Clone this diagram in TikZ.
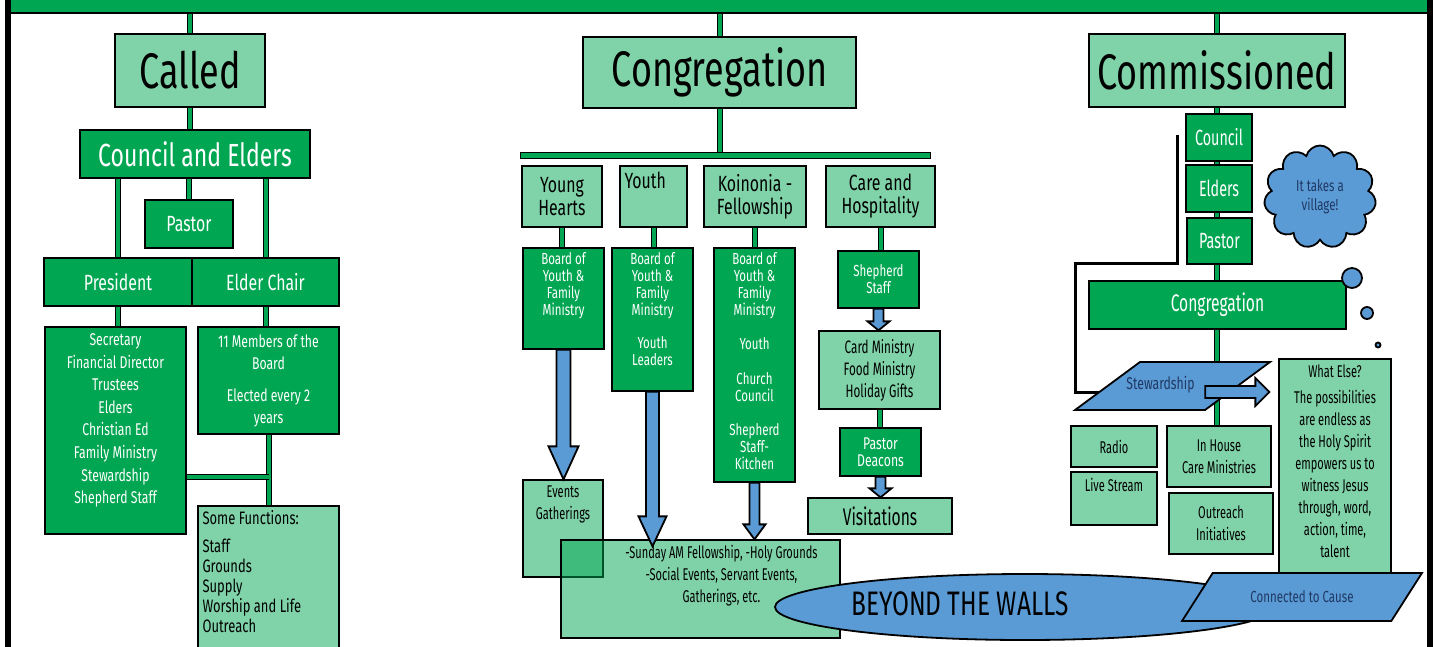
\documentclass[tikz,border=0pt]{standalone}
\usepackage{fontspec}
\newfontfamily\deco{Fira Sans}[FakeStretch=0.72]
\newfontfamily\hand{Fira Sans}[FakeStretch=0.65]
\usetikzlibrary{calc, positioning, backgrounds, shapes.geometric, shapes.symbols}
\definecolor{dkgreen}{RGB}{0,166,81}
\definecolor{lgreen}{RGB}{128,211,168}
\definecolor{ablue}{RGB}{91,155,213}
\definecolor{navy}{RGB}{31,56,100}

\begin{document}
\begin{tikzpicture}[x=1pt, y=-1pt,
  every label/.style = {align=center, inner sep=2pt},
  dbox/.style = {draw=black, line width=1.3pt, fill=dkgreen, text=white, align=center, inner sep=2pt},
  lbox/.style = {draw=black, line width=1.3pt, fill=lgreen, text=black, align=center, inner sep=2pt},
  tbox/.style = {lbox, fill=dkgreen, fill opacity=0.5, text opacity=1},
  wh/.style 2 args = {minimum width=#1, minimum height=#2},
  ft/.style 2 args = {font=\deco\fontsize{#1}{#2}\selectfont},
  hd/.style 2 args = {font=\hand\fontsize{#1}{#2}\selectfont},
  bar/.style = {draw=black, line width=1pt, double=dkgreen, double distance=4pt},
  barrow/.style = {draw=black, line width=1.8pt, fill=ablue, line join=miter},
  slant/.style = {trapezium, trapezium left angle=45, trapezium right angle=135,
    trapezium stretches=true, draw=black, line width=1.8pt, fill=ablue, text=navy},
  varrow/.style n args = {3}{to path={let \p1=(\tikztostart), \p2=(\tikztotarget) in
    (\x1-#1pt,\y1) -- (\x1-#1pt,\y2+#3pt) -- (\x1-#2pt,\y2+#3pt) -- (\x1,\y2)
    -- (\x1+#2pt,\y2+#3pt) -- (\x1+#1pt,\y2+#3pt) -- (\x1+#1pt,\y1) -- cycle}},
  harrow/.style n args = {3}{to path={let \p1=(\tikztostart), \p2=(\tikztotarget) in
    (\x1,\y1+#1pt) -- (\x2-#3pt,\y1+#1pt) -- (\x2-#3pt,\y1+#2pt) -- (\x2,\y1)
    -- (\x2-#3pt,\y1-#2pt) -- (\x2-#3pt,\y1-#1pt) -- (\x1,\y1-#1pt) -- cycle}}]
\useasboundingbox (0,0) rectangle (1434,646);

\node[dbox, wh={1420}{18}, inner sep=0pt] (band) at (718,4) {};
\draw[line width=6pt] (8,-5) -- (8,660);
\draw[line width=6pt] (1429.5,-5) -- (1429.5,660);

% called
\node[lbox, wh={150}{73}, ft={50}{50}] (called) at (190,70.5) {Called};
\node[dbox, wh={230}{48}, ft={32}{32}] (coun) at (195,154) {Council and Elders};
\node[dbox, wh={88}{48}, ft={22}{22}] (pastor) at (189,224) {Pastor};
\node[dbox, wh={148}{48}, ft={22}{22}] (pres) at (118,282) {President};
\node[dbox, wh={147}{48}, ft={22}{22}, right=-1.3pt of pres] (chair) {Elder Chair};
\node[dbox, wh={141}{207}, label={[anchor=north, yshift=-5, text=white, ft={17}{22.6}]north:{Secretary\\Financial Director\\Trustees\\Elders\\Christian Ed\\Family Ministry\\Stewardship\\Shepherd Staff}}] (offi) at (115.5,430.5) {};
\node[dbox, wh={141}{107}, ft={17}{22}] (members) at (268.5,380.5) {11 Members of the\\Board\\[10pt]Elected every 2\\years};
\node[lbox, wh={141}{150}, label={[anchor=north west, xshift=3, yshift=-3, ft={18}{20}, align=left]north west:{Some Functions:\\[8pt]Staff\\Grounds\\Supply\\Worship and Life\\Outreach}}] (funcs) at (268.5,581) {};
\coordinate (joinL) at (268.5,477);

% congregation
\node[lbox, wh={273}{71}, ft={50}{50}] (cong) at (719.5,72.5) {Congregation};
\node[dbox, wh={410}{6}, inner sep=0pt, line width=1pt] (hbar) at (725,155) {};
\node[lbox, wh={80}{61}, ft={22}{23}] (hearts) at (562,196.5) {Young\\Hearts};
\node[lbox, wh={67}{61}, label={[anchor=north west, xshift=3, yshift=-4, ft={22}{23}]north west:Youth}] (youth) at (653.5,196.5) {};
\node[lbox, wh={102}{61}, ft={22}{23}] (koin) at (755,196.5) {Koinonia -\\Fellowship};
\node[lbox, wh={109}{61}, ft={22}{23}] (care) at (880.5,196.5) {Care and\\Hospitality};
\node[dbox, wh={81}{101}, label={[anchor=north, yshift=-3, text=white, ft={16}{17}]north:{Board of\\Youth \&\\Family\\Ministry}}] (hboard) at (563.5,298.5) {};
\node[dbox, wh={81}{143}, label={[anchor=north, yshift=-3, text=white, ft={16}{17}]north:{Board of\\Youth \&\\Family\\Ministry\\[16pt]Youth\\Leaders}}] (yboard) at (652.5,319.5) {};
\node[dbox, wh={81}{234}, label={[anchor=north, yshift=-3, text=white, ft={16}{17}]north:{Board of\\Youth \&\\Family\\Ministry\\[17pt]Youth\\[18pt]Church\\Council\\[17pt]Shepherd\\Staff-\\Kitchen}}] (kboard) at (754.5,365) {};
\node[dbox, wh={81}{57}, ft={16}{17}] (shep) at (878.5,279.5) {Shepherd\\Staff};
\node[lbox, wh={121}{78}, hd={18}{22}] (card) at (879.5,370) {Card Ministry\\Food Ministry\\Holiday Gifts};
\node[dbox, wh={81}{48}, ft={17}{17}] (deacons) at (880.5,452) {Pastor\\Deacons};
\node[lbox, wh={144}{36}, hd={24}{24}] (visit) at (880,516) {Visitations};
\node[tbox, wh={80}{97}, label={[anchor=north, yshift=-4, text opacity=1, hd={17}{22}]north:{Events\\Gatherings}}] (events) at (563,528.5) {};
\node[tbox, wh={279}{98}, label={[anchor=north, xshift=21, yshift=-4, text opacity=1, hd={17}{22}]north:{-Sunday AM Fellowship, -Holy Grounds\\-Social Events, Servant Events,\\Gatherings, etc.}}] (sunday) at (700.5,589) {};
\node[ellipse, draw=black, line width=1.8pt, fill=ablue, wh={500}{66}, label={[xshift=-65, yshift=3, ft={34}{34}]center:BEYOND THE WALLS}] (walls) at (1025,607) {};

% commissioned
\node[lbox, wh={256}{73}, ft={50}{50}] (comm) at (1217,70.5) {Commissioned};
\node[dbox, wh={66}{47}, hd={22}{22}] (rcoun) at (1219,137.5) {Council};
\node[dbox, wh={66}{47}, hd={22}{22}] (relders) at (1219,188.5) {Elders};
\node[dbox, wh={65}{46}, hd={22}{22}] (rpastor) at (1219.5,241) {Pastor};
\node[dbox, wh={257}{48}, hd={24}{24}] (rcong) at (1217.5,305) {Congregation};
\node[cloud, cloud puffs=11, aspect=1.1, draw=black, line width=1.8pt, fill=ablue, text=navy,
  align=center, wh={112}{103}, ft={16}{19}] (village) at (1320,197) {It takes a\\village!};
\node[circle, draw=black, line width=1.8pt, fill=ablue, minimum size=20, inner sep=0pt] (bub1) at (1352,278) {};
\node[circle, draw=black, line width=1.8pt, fill=ablue, minimum size=12, inner sep=0pt] (bub2) at (1367,313) {};
\node[circle, draw=black, line width=1.8pt, fill=ablue, minimum size=5, inner sep=0pt] (bub3) at (1378,345) {};
\node[slant, wh={195}{48}, label={[xshift=-12, yshift=1, text=navy, ft={17}{17}]center:Stewardship}] (stew) at (1172.5,386) {};
\node[lbox, wh={112}{259}, label={[anchor=north, yshift=-4, hd={17}{22}]north:{What Else?\\[4pt]The possibilities\\are endless as\\the Holy Spirit\\empowers us to\\witness Jesus\\through, word,\\action, time,\\talent}}] (what) at (1335,488.5) {};
\node[lbox, wh={86}{41}, hd={17}{22}] (radio) at (1114,446.5) {Radio};
\node[lbox, wh={86}{53}, label={[anchor=north, yshift=-5, hd={17}{22}]north:Live Stream}] (live) at (1114,498.5) {};
\node[lbox, wh={104}{61}, hd={17}{22}] (inhouse) at (1219,456.5) {In House\\Care Ministries};
\node[lbox, wh={104}{61}, hd={17}{22}] (outr) at (1221,523.5) {Outreach\\Initiatives};
\node[slant, wh={240}{48}, ft={16}{16}] (cause) at (1302,597) {Connected to Cause};
\coordinate (lstart) at (1177,135);
\coordinate (lbend) at (1075,263);

\begin{scope}[on background layer]
\draw[bar] (called.north) -- (called.north |- band.south);
\draw[bar] (called.south) -- (called.south |- coun.north);
\draw[bar] (pres.north) -- (pres.north |- coun.south);
\draw[bar] (pastor.north) -- (pastor.north |- coun.south);
\draw[bar] (chair.north) -- (chair.north |- coun.south);
\draw[bar] (pres.south) -- (pres.south |- offi.north);
\draw[bar] (chair.south) -- (chair.south |- members.north);
\draw[bar] (members.south) -- (members.south |- funcs.north);
\draw[bar] (offi.east |- joinL) -- (joinL);
\draw[bar] (cong.north) -- (cong.north |- band.south);
\draw[bar] (cong.south) -- (cong.south |- hbar.north);
\draw[bar] (hearts.south) -- (hearts.south |- hboard.north);
\draw[bar] (youth.south) -- (youth.south |- yboard.north);
\draw[bar] (koin.south) -- (koin.south |- kboard.north);
\draw[bar] (care.south) -- (care.south |- shep.north);
\draw[bar] (card.south) -- (card.south |- deacons.north);
\draw[bar] (comm.north) -- (comm.north |- band.south);
\draw[bar] (comm.south) -- (comm.south |- inhouse.north);
\draw[line width=3pt, line join=miter] (lstart) |- (lbend) |- ($(stew.west)+(0,6)$);
\end{scope}

\draw[barrow] (hboard.south) to[varrow={7}{15}{33}] (hboard.south |- events.north);
\draw[barrow] (yboard.south) to[varrow={6.5}{14}{30}] ($(yboard.south |- sunday.north)+(0,7)$);
\draw[barrow] (kboard.south) to[varrow={5}{11}{15}] (kboard.south |- sunday.north);
\draw[barrow] (shep.south) to[varrow={5}{11}{9}] (shep.south |- card.north);
\draw[barrow] (deacons.south) to[varrow={5}{11}{9}] (deacons.south |- visit.north);
\draw[barrow] ($(stew.bottom right corner |- stew.center)+(0,6)$) to[harrow={6}{14}{14}] ($(what.west |- stew.center)+(-9,6)$);
\end{tikzpicture}
\end{document}
